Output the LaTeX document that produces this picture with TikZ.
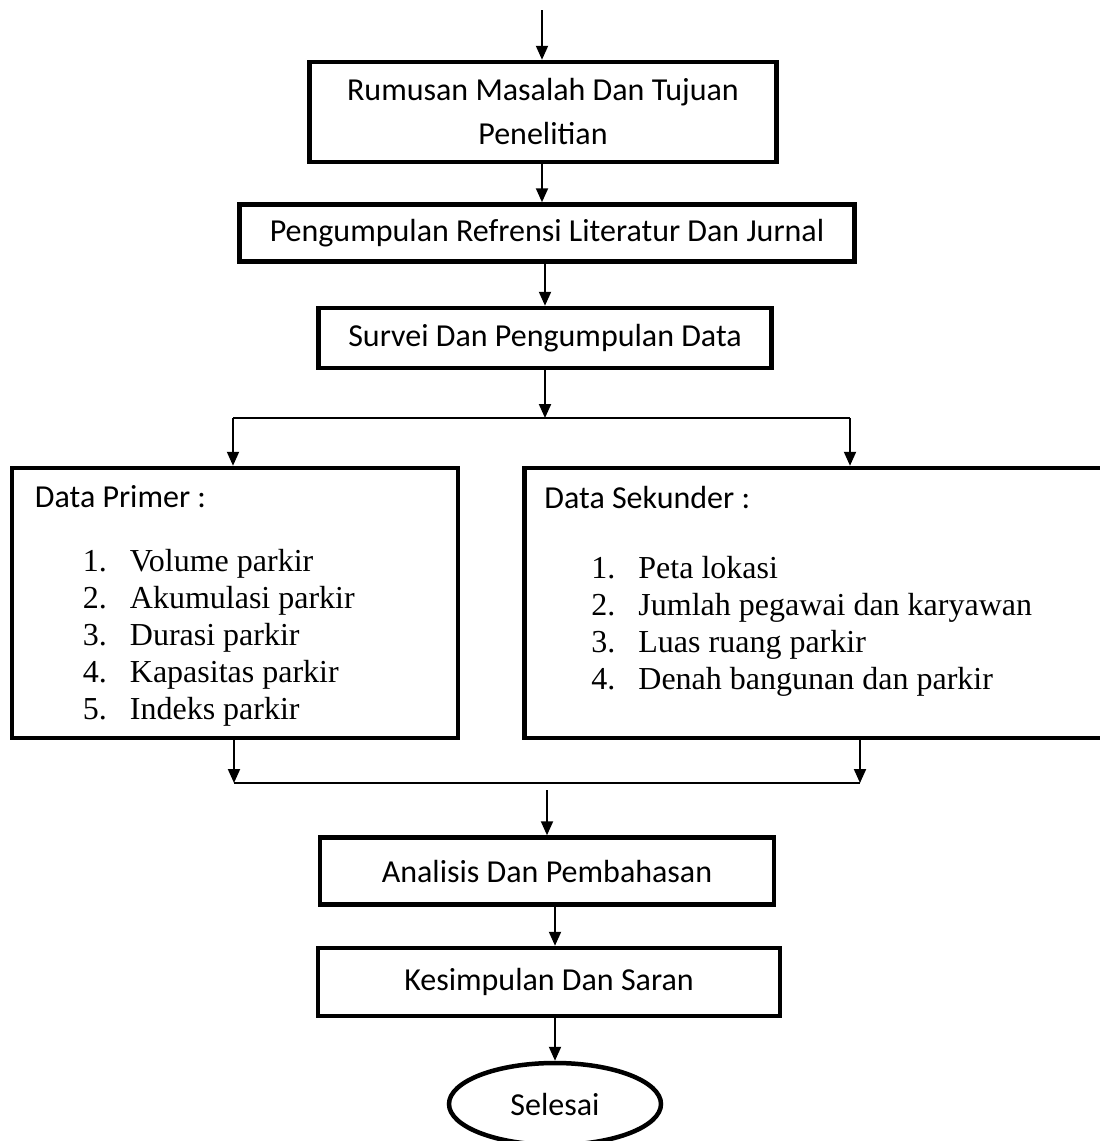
\documentclass[tikz,border=0pt]{standalone}
\usepackage{fontspec}
\setmainfont{Liberation Serif}
\newfontfamily\calibrifont{Carlito}
\usepackage{tikz}
\usetikzlibrary{positioning,shapes,arrows.meta,calc}

\begin{document}
\begin{tikzpicture}[x=1pt, y=-1pt, node distance=110pt]
    \tikzstyle{process} = [rectangle, draw=black, line width=4.5pt, fill=white, inner sep=0pt, text centered, font=\calibrifont\fontsize{32}{44}\selectfont]
    \tikzstyle{databox} = [rectangle, draw=black, line width=4.5pt, fill=white, inner sep=0pt, minimum height=270pt]
    \tikzstyle{terminal} = [ellipse, draw=black, line width=4.5pt, fill=white, inner sep=0pt, minimum width=212pt, minimum height=82pt, font=\calibrifont\fontsize{32}{38}\selectfont]
    \tikzstyle{heading} = [anchor=base west, inner sep=0pt, font=\calibrifont\fontsize{32}{38}\selectfont]
    \tikzstyle{itemlist} = [anchor=base west, inner sep=0pt, font=\fontsize{32}{37}\selectfont]
    \tikzstyle{arrow} = [line width=2pt, -{Triangle[length=14pt,width=12pt]}]
    \tikzstyle{link} = [line width=1.8pt]

    \useasboundingbox (0,0) rectangle (1100,1141);

    % Alur atas
    \coordinate (start) at (542,10);
    \node [process, minimum width=467pt, minimum height=100pt, align=center] (rumusan) at (543,112) {Rumusan Masalah Dan Tujuan\\Penelitian};
    \node [process, minimum width=615pt, minimum height=57pt, below of=rumusan, node distance=121pt, xshift=4pt] (pengumpulan) {Pengumpulan Refrensi Literatur Dan Jurnal};
    \node [process, minimum width=453pt, minimum height=60pt, below of=pengumpulan, node distance=105pt, xshift=-2pt] (survei) {Survei Dan Pengumpulan Data};

    % Data primer dan sekunder
    \node [databox, minimum width=446pt] (primer) at (235,603) {};
    \node [heading] (primer_title) at ([shift={(25,42)}]primer.north west) {Data Primer :};
    \node [itemlist] (primer_list) at ([shift={(73,106)}]primer.north west) {%
        \begin{tabular}[t]{@{}p{47pt}@{}l@{}}
        1. & Volume parkir\\
        2. & Akumulasi parkir\\
        3. & Durasi parkir\\
        4. & Kapasitas parkir\\
        5. & Indeks parkir
        \end{tabular}};

    \node [databox, minimum width=585pt] (sekunder) at (817,603) {};
    \node [heading] (sekunder_title) at ([shift={(22,43)}]sekunder.north west) {Data Sekunder :};
    \node [itemlist] (sekunder_list) at ([shift={(69,113)}]sekunder.north west) {%
        \begin{tabular}[t]{@{}p{47pt}@{}l@{}}
        1. & Peta lokasi\\
        2. & Jumlah pegawai dan karyawan\\
        3. & Luas ruang parkir\\
        4. & Denah bangunan dan parkir
        \end{tabular}};

    % Alur bawah
    \node [process, minimum width=454pt, minimum height=67pt] (analisis) at (547,871) {Analisis Dan Pembahasan};
    \node [process, minimum width=462pt, minimum height=68pt, below of=analisis, node distance=111pt, xshift=2pt] (kesimpulan) {Kesimpulan Dan Saran};
    \node [terminal, below of=kesimpulan, node distance=122pt, xshift=6pt] (selesai) {Selesai};

    % Percabangan
    \coordinate (splitL) at (233,418);
    \coordinate (splitR) at (850,418);
    \coordinate (joinL) at (234,783);
    \coordinate (joinR) at (860,783);

    % Panah
    \draw [arrow] (start) -- (start |- rumusan.north);
    \draw [arrow] (rumusan.south -| start) -- (pengumpulan.north -| start);
    \draw [arrow] (pengumpulan.south -| survei) -- (survei.north);
    \draw [arrow] (survei.south) -- (splitL -| survei.south);
    \draw [link] (splitL) -- (splitR);
    \draw [arrow] (splitL) -- (splitL |- primer.north);
    \draw [arrow] (splitR) -- (splitR |- sekunder.north);
    \draw [arrow] (primer.south -| joinL) -- (joinL);
    \draw [arrow] (sekunder.south -| joinR) -- (joinR);
    \draw [link] (joinL) -- (joinR);
    \draw [arrow] ([yshift=-7pt]joinL -| analisis.north) -- (analisis.north);
    \draw [arrow] (analisis.south -| selesai.north) -- (kesimpulan.north -| selesai.north);
    \draw [arrow] (kesimpulan.south -| selesai.north) -- (selesai.north);
\end{tikzpicture}
\end{document}
